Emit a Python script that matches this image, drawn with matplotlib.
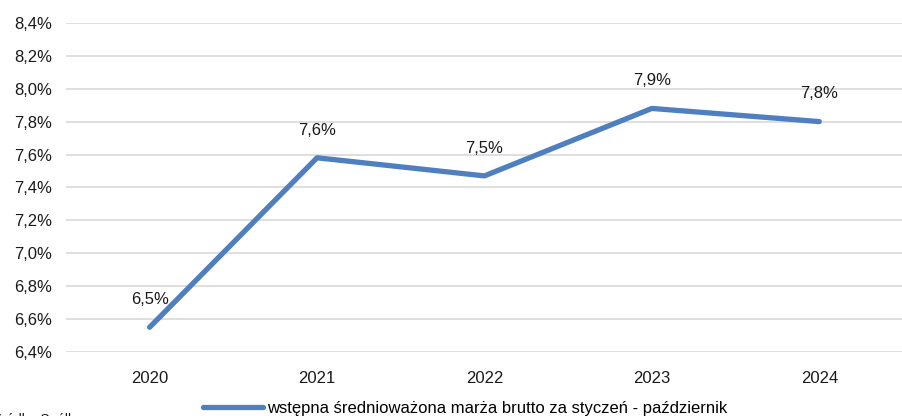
import matplotlib.pyplot as plt

years = ['2020', '2021', '2022', '2023', '2024']
margin = [6.55, 7.58, 7.47, 7.88, 7.80]
labels = ['6,5%', '7,6%', '7,5%', '7,9%', '7,8%']
yticks = [6.4, 6.6, 6.8, 7.0, 7.2, 7.4, 7.6, 7.8, 8.0, 8.2, 8.4]

plt.rcParams['font.family'] = ['Liberation Sans', 'DejaVu Sans']

fig = plt.figure(figsize=(9.03, 4.16), dpi=100)
ax = fig.add_axes([0.073, 0.154, 0.927, 0.791])

x = list(range(len(years)))
ax.plot(x, margin, color='#4f7fbf', linewidth=3.8, solid_capstyle='round', zorder=3,
        label='wstępna średnioważona marża brutto za styczeń - październik')
for xi, v, t in zip(x, margin, labels):
    ax.annotate(t, (xi, v), xytext=(0, 20), textcoords='offset points',
                ha='center', va='center', fontsize=12, color='#1a1a1a')

ax.set_xlim(-0.5, 4.5)
ax.set_ylim(6.4, 8.4)
ax.set_xticks(x)
ax.set_xticklabels(years, fontsize=12)
ax.set_yticks(yticks)
ax.set_yticklabels([f'{v:.1f}%'.replace('.', ',') for v in yticks], fontsize=12)
ax.tick_params(length=0, pad=10, colors='#1a1a1a')
ax.tick_params(axis='x', pad=14)
ax.grid(axis='y', color='#d9d9d9', linewidth=1.2, zorder=0)
for s in ax.spines.values():
    s.set_visible(False)

fig.legend(loc='lower center', bbox_to_anchor=(0.515, -0.035), frameon=False,
           fontsize=12, handlelength=3.6, handletextpad=0.2)
fig.text(-0.008, 0.013, 'Źródło: Spółka', fontsize=10, va='top', ha='left', color='#1a1a1a')

fig.savefig('out.png', dpi=100)
